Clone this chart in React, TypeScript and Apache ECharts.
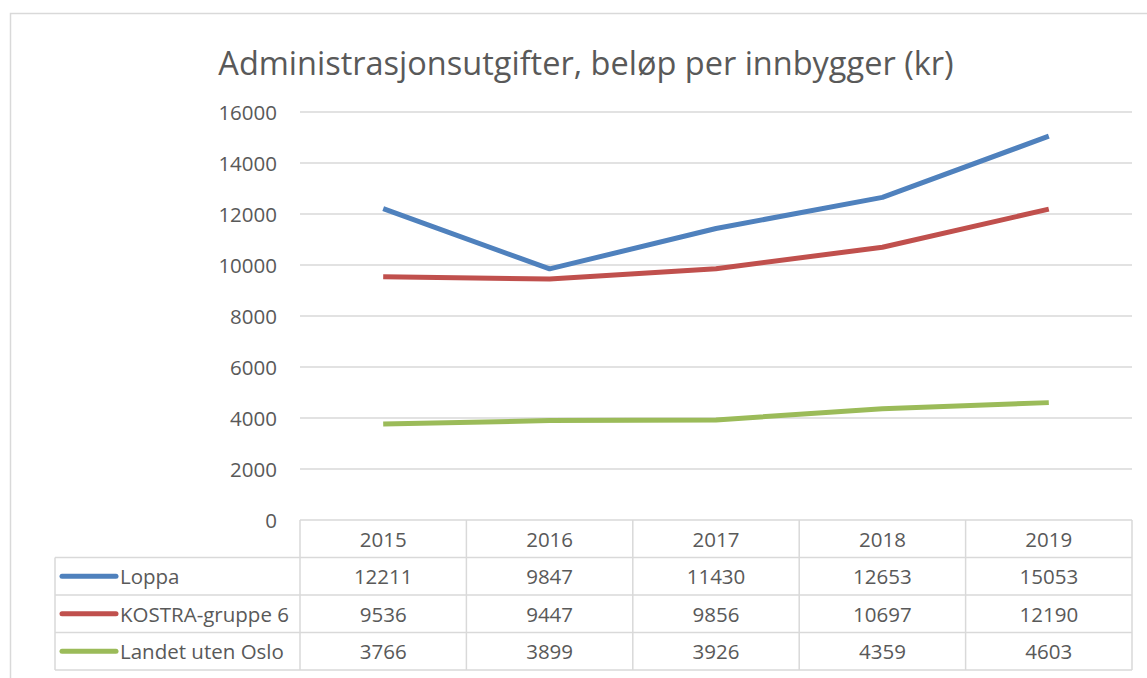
import React, { useEffect, useRef } from "react";
import * as echarts from "echarts";

const title = "Administrasjonsutgifter, beløp per innbygger (kr)";
const years = ["2015", "2016", "2017", "2018", "2019"];
const seriesNames = ["Loppa", "KOSTRA-gruppe 6", "Landet uten Oslo"];
const loppa = [12211, 9847, 11430, 12653, 15053];
const kostra = [9536, 9447, 9856, 10697, 12190];
const landet = [3766, 3899, 3926, 4359, 4603];
const colors = ["#4F81BD", "#C0504D", "#9BBB59"];
const yTicks = [0, 2000, 4000, 6000, 8000, 10000, 12000, 14000, 16000];

const W = 1147;
const H = 678;
const FONT = "Open Sans";
const TEXT = "#595959";
const GRID = "#d9d9d9";

export default function App() {
  const ref = useRef<HTMLDivElement>(null);
  useEffect(() => {
    if (!ref.current) return;
    const chart = echarts.init(ref.current, null, { renderer: "svg" });
    const gridLeft = 300;
    const gridRight = 1132;
    const gridTop = 112;
    const gridBottom = 520;
    const rowH = 37.5;
    const tableLeft = 55;
    const colW = (gridRight - gridLeft) / years.length;
    const allData = [loppa, kostra, landet];
    const fs = 20.5;

    const g: any[] = [];
    g.push({
      type: "rect",
      shape: { x: 10.5, y: 13.5, width: 1300, height: 800 },
      style: { fill: "none", stroke: GRID, lineWidth: 1.5 },
      silent: true,
    });
    g.push({
      type: "text",
      x: 586,
      y: 62,
      style: { text: title, fill: TEXT, font: `32.5px "${FONT}"`, textAlign: "center", textVerticalAlign: "middle" },
    });
    const lineStyle = { stroke: GRID, lineWidth: 1.5 };
    const tableBottom = gridBottom + rowH * 4;
    for (let r = 1; r <= 4; r++) {
      const y = gridBottom + rowH * r;
      g.push({ type: "line", shape: { x1: tableLeft, y1: y, x2: gridRight, y2: y }, style: lineStyle });
    }
    g.push({ type: "line", shape: { x1: tableLeft, y1: gridBottom + rowH, x2: tableLeft, y2: tableBottom }, style: lineStyle });
    for (let c = 0; c <= years.length; c++) {
      const x = gridLeft + colW * c;
      g.push({ type: "line", shape: { x1: x, y1: gridBottom, x2: x, y2: tableBottom }, style: lineStyle });
    }
    years.forEach((yr, c) => {
      g.push({
        type: "text",
        x: gridLeft + colW * (c + 0.5),
        y: gridBottom + rowH * 0.5,
        style: { text: yr, fill: TEXT, font: `${fs}px "${FONT}"`, textAlign: "center", textVerticalAlign: "middle" },
      });
    });
    seriesNames.forEach((name, r) => {
      const cy = gridBottom + rowH * (r + 1.5);
      g.push({
        type: "line",
        shape: { x1: 62, y1: cy, x2: 116, y2: cy },
        style: { stroke: colors[r], lineWidth: 5, lineCap: "round" },
      });
      g.push({
        type: "text",
        x: 120,
        y: cy,
        style: { text: name, fill: TEXT, font: `${fs}px "${FONT}"`, textAlign: "left", textVerticalAlign: "middle" },
      });
      allData[r].forEach((v, c) => {
        g.push({
          type: "text",
          x: gridLeft + colW * (c + 0.5),
          y: cy,
          style: { text: String(v), fill: TEXT, font: `${fs}px "${FONT}"`, textAlign: "center", textVerticalAlign: "middle" },
        });
      });
    });

    chart.setOption({
      animation: false,
      backgroundColor: "#ffffff",
      grid: { left: gridLeft, right: W - gridRight, top: gridTop, bottom: H - gridBottom, containLabel: false },
      xAxis: {
        type: "category",
        data: years,
        boundaryGap: true,
        axisLine: { show: false },
        axisTick: { show: false },
        axisLabel: { show: false },
      },
      yAxis: {
        type: "value",
        min: yTicks[0],
        max: yTicks[yTicks.length - 1],
        interval: 2000,
        axisLine: { show: false },
        axisTick: { show: false },
        splitLine: { lineStyle: { color: GRID, width: 1.5 } },
        axisLabel: { color: TEXT, fontSize: fs, fontFamily: FONT, margin: 23, formatter: (v: number) => String(v) },
      },
      series: allData.map((d, i) => ({
        name: seriesNames[i],
        type: "line",
        data: d,
        symbol: "none",
        lineStyle: { color: colors[i], width: 5 },
        itemStyle: { color: colors[i] },
      })),
      graphic: g,
    });
    return () => chart.dispose();
  }, []);
  return <div ref={ref} style={{ position: "fixed", left: 0, top: 0, width: W, height: H }} />;
}
